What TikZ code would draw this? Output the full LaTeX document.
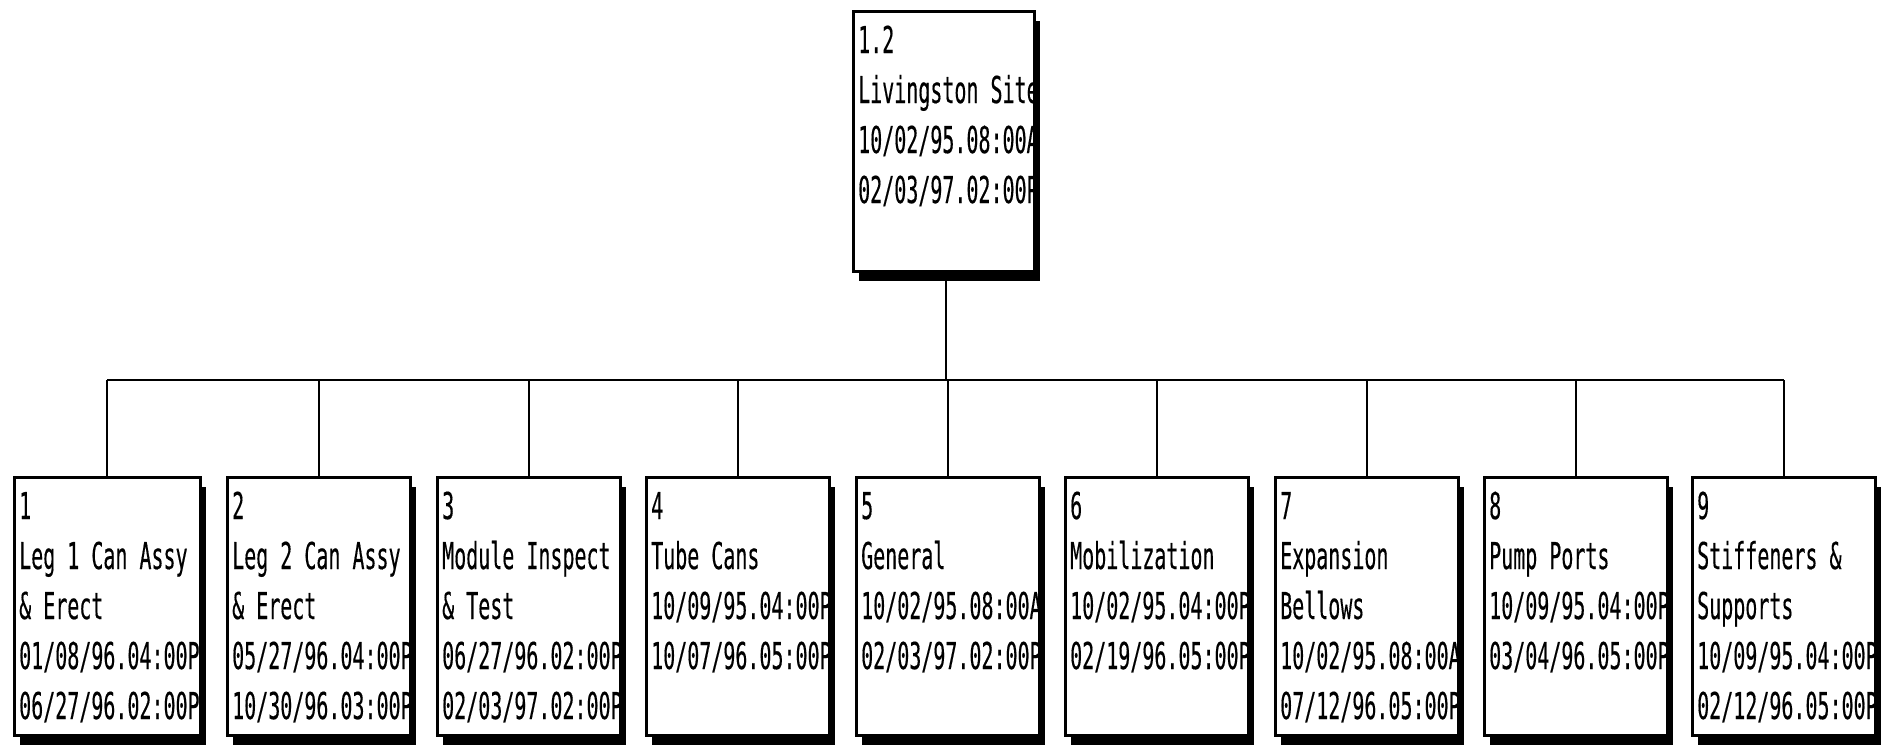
\documentclass[tikz,border=0pt]{standalone}
\usepackage{fontspec}
\newfontfamily\plotfont{DejaVu Sans Mono}[FakeStretch=0.54, FakeBold=0.3]
\usetikzlibrary{shadows}
\tikzset{
  wbsbox/.style={draw, fill=white, line width=2.6pt, anchor=north west, inner sep=0pt,
    minimum width=183pt, minimum height=258pt,
    general shadow={fill=black, shadow xshift=6pt, shadow yshift=-10pt}},
  topbox/.style={wbsbox, minimum width=181pt, minimum height=260pt},
  wbstext/.style={anchor=base west, inner sep=0pt, font=\plotfont\fontsize{37}{50}\selectfont},
  link/.style={line width=2pt}
}
\newcommand\wbsitem[4]{% #1 name, #2 style, #3 top-left position, #4 lines
  \node[#2] (#1) at #3 {};
  \begin{scope}
    \clip (#1.north west) rectangle (#1.south east);
    \foreach \t [count=\i] in {#4} {
      \node[wbstext] (#1-\i) at ([xshift=6pt, yshift={-43pt-50pt*(\i-1)}]#1.north west) {\t};
    }
  \end{scope}
}
\begin{document}
\begin{tikzpicture}[x=1pt, y=-1pt]
\useasboundingbox (0,0) rectangle (1892,744);
\coordinate (bar) at (946,380);
% boxes
\wbsitem{top}{topbox}{(852,10)}{1.2, Livingston Site, 10/02/95.08:00A, 02/03/97.02:00P}
\wbsitem{n1}{wbsbox, minimum width=186pt}{(13,476)}{1, Leg 1 Can Assy, \& Erect, 01/08/96.04:00P, 06/27/96.02:00P}
\wbsitem{n2}{wbsbox}{(226,476)}{2, Leg 2 Can Assy, \& Erect, 05/27/96.04:00P, 10/30/96.03:00P}
\wbsitem{n3}{wbsbox}{(436,476)}{3, Module Inspect, \& Test, 06/27/96.02:00P, 02/03/97.02:00P}
\wbsitem{n4}{wbsbox}{(645,476)}{4, Tube Cans, 10/09/95.04:00P, 10/07/96.05:00P}
\wbsitem{n5}{wbsbox}{(855,476)}{5, General, 10/02/95.08:00A, 02/03/97.02:00P}
\wbsitem{n6}{wbsbox}{(1064,476)}{6, Mobilization, 10/02/95.04:00P, 02/19/96.05:00P}
\wbsitem{n7}{wbsbox}{(1274,476)}{7, Expansion, Bellows, 10/02/95.08:00A, 07/12/96.05:00P}
\wbsitem{n8}{wbsbox}{(1483,476)}{8, Pump Ports, 10/09/95.04:00P, 03/04/96.05:00P}
\wbsitem{n9}{wbsbox}{(1691,476)}{9, Stiffeners \&, Supports, 10/09/95.04:00P, 02/12/96.05:00P}
% connectors
\draw[link] (top.south -| bar) -- (bar);
\draw[link] (n1.north |- bar) -- (n9.north |- bar);
\foreach \k in {1,...,9} {
  \draw[link] (n\k.north) -- (n\k.north |- bar);
}
\end{tikzpicture}
\end{document}
